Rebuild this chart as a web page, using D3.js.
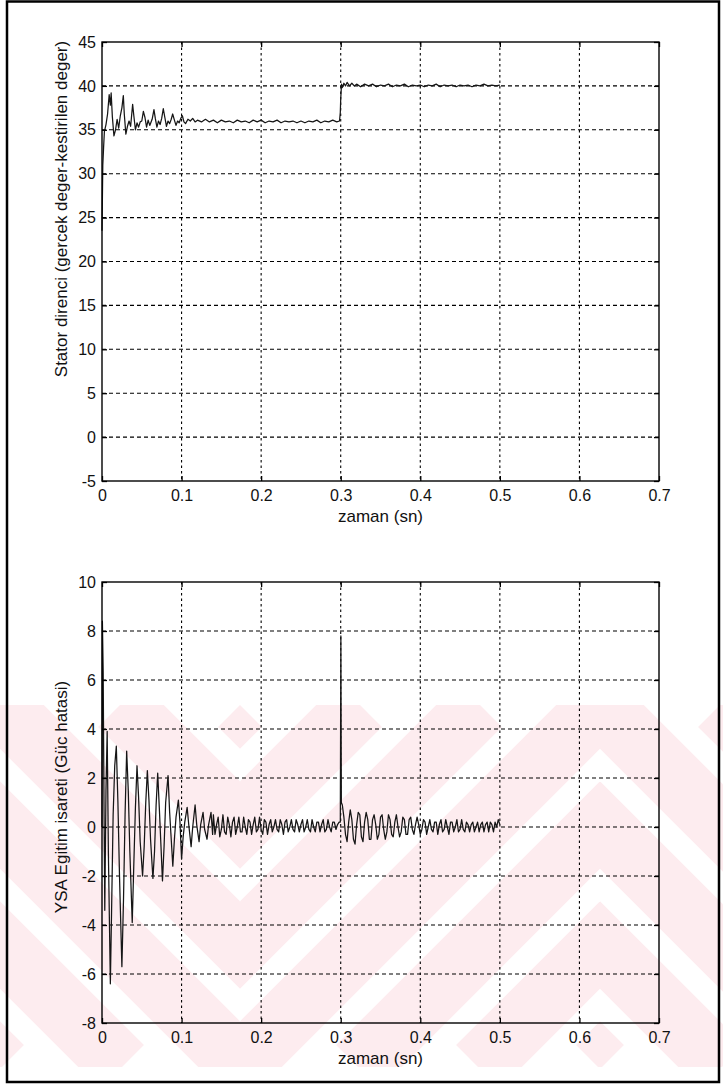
<!DOCTYPE html>
<html>
<head>
<meta charset="utf-8">
<script src="https://cdn.jsdelivr.net/npm/d3@7"></script>
<style>
  body { margin: 0; background: #fff; }
  text { font-family: "Liberation Sans", Arial, sans-serif; }
</style>
</head>
<body>
<script>
// ---- data ----
const xTicks = [0, 0.1, 0.2, 0.3, 0.4, 0.5, 0.6, 0.7];
const xTickLabels = ["0", "0.1", "0.2", "0.3", "0.4", "0.5", "0.6", "0.7"];
const statorTicks = [-5, 0, 5, 10, 15, 20, 25, 30, 35, 40, 45];
const errorTicks = [-8, -6, -4, -2, 0, 2, 4, 6, 8, 10];

const xTitle = "zaman (sn)";
const statorTitle = "Stator direnci (gercek deger-kestirilen deger)";
const errorTitle = "YSA Egitim isareti (Güc hatasi)";

// stator resistance estimate error, [time s, value]
const statorSeries = [
  [0.000, 23.5], [0.001, 31.0], [0.002, 33.0], [0.003, 34.8], [0.005, 35.6],
  [0.007, 36.8], [0.009, 39.0], [0.0105, 37.8], [0.0115, 39.2], [0.013, 36.5],
  [0.015, 34.3], [0.017, 35.0], [0.019, 36.2], [0.021, 35.2], [0.023, 36.6],
  [0.025, 37.5], [0.0268, 38.9], [0.028, 36.8], [0.030, 34.5], [0.032, 35.4],
  [0.034, 36.0], [0.036, 35.4], [0.0385, 37.9], [0.040, 36.6], [0.042, 35.0],
  [0.044, 35.8], [0.046, 35.3], [0.048, 35.9], [0.050, 36.0], [0.052, 37.1],
  [0.054, 36.4], [0.056, 35.3], [0.058, 36.1], [0.060, 35.5], [0.063, 36.2],
  [0.0653, 37.3], [0.067, 36.3], [0.069, 35.3], [0.071, 36.0], [0.073, 35.6],
  [0.075, 36.3], [0.077, 37.4], [0.079, 36.4], [0.081, 35.4], [0.083, 36.0],
  [0.085, 35.7], [0.087, 36.2], [0.0888, 36.8], [0.091, 36.1], [0.093, 35.5],
  [0.095, 36.0], [0.097, 35.8], [0.099, 36.3], [0.101, 36.6], [0.103, 35.9],
  [0.105, 35.7], [0.108, 36.2], [0.111, 36.0], [0.114, 36.3], [0.117, 35.9],
  [0.120, 36.1], [0.125, 35.9], [0.130, 36.2], [0.135, 35.9], [0.140, 36.1],
  [0.145, 35.8], [0.150, 36.1], [0.155, 35.9], [0.160, 36.0], [0.165, 35.8],
  [0.170, 36.1], [0.175, 35.9], [0.180, 36.0], [0.185, 35.8], [0.190, 36.1],
  [0.195, 35.9], [0.200, 36.1], [0.205, 35.8], [0.210, 36.0], [0.215, 35.9],
  [0.220, 36.1], [0.225, 35.8], [0.230, 36.0], [0.235, 35.9], [0.240, 36.0],
  [0.245, 35.8], [0.250, 36.0], [0.255, 35.8], [0.260, 36.0], [0.265, 35.9],
  [0.270, 36.1], [0.275, 35.8], [0.280, 36.0], [0.285, 35.9], [0.290, 36.1],
  [0.295, 35.9], [0.2985, 36.0], [0.2995, 37.0], [0.300, 38.5], [0.301, 40.2],
  [0.302, 39.8], [0.304, 40.3], [0.306, 40.0], [0.308, 40.4], [0.311, 40.0],
  [0.314, 40.3], [0.317, 40.0], [0.320, 40.2], [0.325, 39.9], [0.330, 40.2],
  [0.335, 40.0], [0.340, 40.2], [0.345, 39.9], [0.350, 40.1], [0.355, 40.0],
  [0.360, 40.2], [0.365, 39.9], [0.370, 40.1], [0.375, 40.0], [0.380, 40.2],
  [0.385, 39.9], [0.390, 40.1], [0.395, 40.0], [0.400, 40.1], [0.405, 39.9],
  [0.410, 40.1], [0.415, 40.0], [0.420, 40.2], [0.425, 39.9], [0.430, 40.1],
  [0.435, 40.0], [0.440, 40.1], [0.445, 39.9], [0.450, 40.1], [0.455, 40.0],
  [0.460, 40.1], [0.465, 39.9], [0.470, 40.1], [0.475, 40.0], [0.480, 40.2],
  [0.485, 40.0], [0.490, 40.1], [0.495, 40.0], [0.500, 40.1]
];

// training signal (power error): start-up transient, [time s, value]
const errorStart = [
  [0.000, 0.0], [0.0005, 8.4], [0.0015, 6.3], [0.0025, 1.0], [0.0035, -3.4],
  [0.005, 1.5], [0.0065, 3.9], [0.008, -1.0], [0.0105, -6.4], [0.012, -3.5],
  [0.014, 0.5], [0.016, 2.5], [0.018, 3.3], [0.020, 1.0], [0.022, -2.0],
  [0.025, -5.7], [0.027, -3.0], [0.029, 0.5], [0.031, 3.1], [0.033, 1.5],
  [0.035, -1.0], [0.038, -3.9], [0.040, -1.5], [0.042, 0.8], [0.044, 2.5],
  [0.046, 1.2], [0.048, -0.6], [0.051, -2.0], [0.053, -0.8], [0.055, 1.0],
  [0.057, 2.3], [0.059, 1.1], [0.061, -0.5], [0.064, -2.1], [0.066, -1.0],
  [0.068, 0.9], [0.070, 2.2], [0.072, 0.8], [0.074, -0.7], [0.076, -2.2],
  [0.078, -0.8], [0.080, 1.0], [0.083, 2.1], [0.085, 0.6], [0.087, -0.5],
  [0.089, -1.6], [0.091, -0.5], [0.093, 0.4], [0.096, 1.1], [0.098, 0.2],
  [0.100, -1.3], [0.102, -0.4], [0.104, 0.2], [0.107, 0.8], [0.109, 0.1],
  [0.112, -0.8], [0.114, 0.0], [0.117, 0.9], [0.119, 0.1], [0.122, -0.6],
  [0.124, 0.1], [0.127, 0.6], [0.129, -0.1], [0.132, -0.5], [0.134, 0.1],
  [0.137, 0.6], [0.139, -0.3]
];
// samples every 2 ms from 0.140 s
const errorMid = [
  0.5, -0.3, 0.1, 0.4, -0.4, -0.1, 0.5, -0.2, -0.3, 0.4, 0.1, -0.4, 0.2, 0.4, -0.3, 0.0, 0.4, -0.2, -0.2, 0.4,
  0.0, -0.3, 0.3, 0.2, -0.3, 0.1, 0.4, -0.2, -0.1, 0.4, -0.1, -0.3, 0.3, 0.2, -0.3, 0.1, 0.3, -0.2, 0.0, 0.3,
  -0.1, -0.2, 0.3, 0.1, -0.3, 0.2, 0.3, -0.2, 0.0, 0.3, -0.1, -0.2, 0.3, 0.1, -0.2, 0.1, 0.3, -0.2, 0.0, 0.3,
  -0.1, -0.2, 0.3, 0.0, -0.2, 0.2, 0.2, -0.2, 0.1, 0.3, -0.2, -0.1, 0.3, 0.0, -0.2, 0.2, 0.2, -0.1, 0.1, 0.2
];
const errorSpike = [[0.2995, 0.2], [0.3002, 7.8], [0.3008, 1.0]];
// samples every 2 ms from 0.302 s
const errorLate = [
  0.9, 0.4, -0.3, -0.6, 0.2, 0.7, 0.3, -0.5, -0.7, 0.1, 0.6, 0.5, -0.4, -0.6, 0.2, 0.6, 0.3, -0.5, -0.5, 0.3,
  0.5, 0.1, -0.5, -0.3, 0.4, 0.5, -0.1, -0.5, -0.2, 0.5, 0.3, -0.3, -0.4, 0.2, 0.5, 0.0, -0.4, -0.2, 0.4, 0.3,
  -0.3, -0.3, 0.3, 0.4, -0.1, -0.3, 0.1, 0.4, 0.1, -0.3, -0.1, 0.3, 0.2, -0.3, 0.0, 0.3, -0.1, -0.2, 0.2, 0.2,
  -0.3, 0.1, 0.3, -0.2, -0.1, 0.3, 0.0, -0.3, 0.2, 0.2, -0.2, 0.0, 0.3, -0.2, -0.1, 0.3, -0.1, -0.2, 0.2, 0.1,
  -0.2, 0.1, 0.2, -0.2, 0.0, 0.2, -0.2, 0.1, 0.2, -0.2, 0.1, 0.2, -0.2, 0.2, 0.1, -0.2, 0.2, 0.0, 0.3, 0.1
];

const errorSeries = errorStart
  .concat(errorMid.map((v, i) => [0.140 + i * 0.002, v]))
  .concat(errorSpike)
  .concat(errorLate.map((v, i) => [0.302 + i * 0.002, v]));

// ---- drawing ----
const width = 723, height = 1086;
const svg = d3.select("body").append("svg")
    .attr("width", width)
    .attr("height", height);

svg.append("rect").attr("width", width).attr("height", height).attr("fill", "#fff");

// faint thesis-centre watermark across the lower half
const wm = svg.append("g");
const wmTop = 705, wmBottom = 1067;
const zones = [
  {id: "wmA", x0: 0, x1: 240, dir: 1},
  {id: "wmB", x0: 240, x1: 600, dir: -1},
  {id: "wmC", x0: 600, x1: width, dir: 1}
];
const defs = svg.append("defs");
zones.forEach(z => {
  defs.append("clipPath").attr("id", z.id)
    .append("rect")
      .attr("x", z.x0).attr("y", wmTop)
      .attr("width", z.x1 - z.x0).attr("height", wmBottom - wmTop);
  const span = wmBottom - wmTop;
  const zg = wm.append("g").attr("clip-path", `url(#${z.id})`);
  zg.selectAll("line")
    .data(d3.range(-6, 10))
    .join("line")
      .attr("x1", k => z.x0 + k * 120)
      .attr("y1", wmTop)
      .attr("x2", k => z.x0 + k * 120 + z.dir * span)
      .attr("y2", wmBottom)
      .attr("stroke", "#fdecef")
      .attr("stroke-width", 62);
});

const x = d3.scaleLinear().domain([0, 0.7]).range([102, 659]);

function panel(cfg) {
  const y = d3.scaleLinear().domain(d3.extent(cfg.ticks)).range([cfg.bottom, cfg.top]);
  const g = svg.append("g");

  // dashed grid
  g.append("g")
      .attr("stroke", "#000")
      .attr("stroke-width", 1.1)
      .attr("stroke-dasharray", "2.5,3")
    .selectAll("line")
    .data(xTicks.slice(1, -1))
    .join("line")
      .attr("x1", d => x(d)).attr("x2", d => x(d))
      .attr("y1", cfg.top).attr("y2", cfg.bottom);

  g.append("g")
      .attr("stroke", "#000")
      .attr("stroke-width", 1.1)
      .attr("stroke-dasharray", "4,3")
    .selectAll("line")
    .data(cfg.ticks.slice(1, -1))
    .join("line")
      .attr("x1", x.range()[0]).attr("x2", x.range()[1])
      .attr("y1", d => y(d)).attr("y2", d => y(d));

  // signal
  g.append("path")
      .datum(cfg.series)
      .attr("fill", "none")
      .attr("stroke", "#161616")
      .attr("stroke-width", 1.25)
      .attr("stroke-linejoin", "round")
      .attr("d", d3.line().x(d => x(d[0])).y(d => y(d[1])));

  // axes with inward ticks on all four sides
  const fmt = (d, i) => xTickLabels[i];
  const axes = [
    [d3.axisBottom(x).tickValues(xTicks).tickFormat(fmt).tickSize(-5).tickPadding(9), `translate(0,${cfg.bottom})`],
    [d3.axisTop(x).tickValues(xTicks).tickFormat("").tickSize(-5), `translate(0,${cfg.top})`],
    [d3.axisLeft(y).tickValues(cfg.ticks).tickFormat(d => String(d)).tickSize(-5).tickPadding(6), `translate(${x.range()[0]},0)`],
    [d3.axisRight(y).tickValues(cfg.ticks).tickFormat("").tickSize(-5), `translate(${x.range()[1]},0)`]
  ];
  axes.forEach(([ax, tr]) => {
    const a = g.append("g").attr("transform", tr).call(ax);
    a.select(".domain").remove();
    a.selectAll("line").attr("stroke", "#000").attr("stroke-width", 1.3);
    a.selectAll("text")
      .attr("fill", "#111")
      .style("font-family", '"Liberation Sans", Arial, sans-serif')
      .style("font-size", "16px");
  });

  g.append("rect")
      .attr("x", x.range()[0]).attr("y", cfg.top)
      .attr("width", x.range()[1] - x.range()[0])
      .attr("height", cfg.bottom - cfg.top)
      .attr("fill", "none")
      .attr("stroke", "#000")
      .attr("stroke-width", 1.4);

  g.append("text")
      .attr("x", (x.range()[0] + x.range()[1]) / 2)
      .attr("y", cfg.bottom + 41)
      .attr("text-anchor", "middle")
      .attr("fill", "#111")
      .style("font-size", "17px")
      .text(xTitle);

  g.append("text")
      .attr("transform", `translate(67,${cfg.labelY}) rotate(-90)`)
      .attr("text-anchor", "middle")
      .attr("fill", "#111")
      .style("font-size", "17px")
      .text(cfg.title);
}

panel({top: 42, bottom: 481, ticks: statorTicks, series: statorSeries, title: statorTitle, labelY: 209});
panel({top: 582, bottom: 1023, ticks: errorTicks, series: errorSeries, title: errorTitle, labelY: 797});

// outer frame of the scanned page
svg.append("rect")
    .attr("x", 7).attr("y", 1.5)
    .attr("width", 712).attr("height", 1080.5)
    .attr("fill", "none")
    .attr("stroke", "#000")
    .attr("stroke-width", 2.5);
</script>
</body>
</html>
